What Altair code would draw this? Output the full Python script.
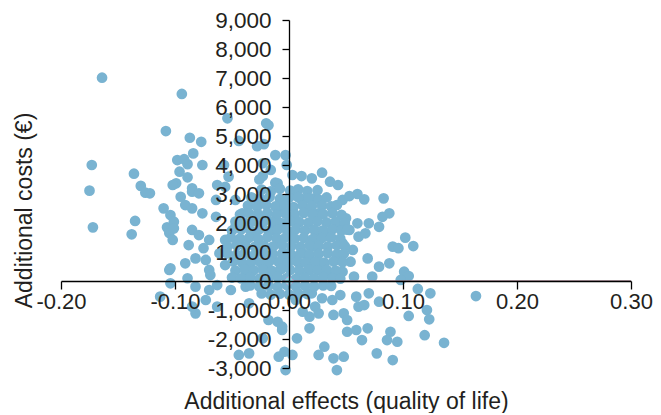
import altair as alt
import pandas as pd

x_ticks = [-0.2, -0.1, 0.0, 0.1, 0.2, 0.3]
y_ticks = [-3000, -2000, -1000, 0, 1000, 2000, 3000, 4000, 5000, 6000, 7000, 8000, 9000]

# scattered simulations (outside the dense core)
effects_outer = [
    -0.164, -0.108, -0.173, -0.136, -0.175, -0.130, -0.126, -0.122, -0.110, -0.172,
    -0.135, -0.138, -0.107, -0.105, -0.105, -0.113, -0.094, -0.054, -0.020, -0.018,
    -0.087, -0.077, -0.044, -0.028, -0.022, -0.084, -0.012, -0.098, -0.092, -0.089,
    -0.076, -0.057, -0.023, -0.016, -0.096, -0.053, -0.089, -0.026, -0.023, -0.099,
    -0.063, -0.012, -0.085, -0.056, -0.002, -0.003, -0.102, -0.095, -0.085, -0.079,
    -0.091, -0.085, -0.076, -0.104, -0.101, -0.101, -0.102, -0.085, -0.079, -0.070,
    -0.088, -0.082, -0.073, -0.091, -0.104, -0.070, -0.056, -0.039, -0.026, -0.015,
    -0.020, -0.038, -0.010, -0.064, -0.047, -0.032, -0.041, -0.020, -0.009, -0.013,
    -0.032, -0.047, -0.064, -0.056, -0.045, -0.061, -0.075, -0.009, -0.004, -0.003,
    -0.104, -0.089, -0.082, -0.070, -0.063, -0.051, -0.038, -0.073, -0.063, -0.082,
    -0.035, -0.018, -0.010, -0.023, -0.044, -0.035, -0.038, -0.069, -0.006, -0.009,
    -0.085, -0.003, 0.003, 0.011, 0.020, 0.029, 0.036, 0.043, 0.003, 0.010,
    0.022, 0.028, 0.047, 0.053, 0.060, 0.066, 0.083, 0.038, 0.088, 0.082,
    0.070, 0.079, 0.061, 0.067, 0.091, 0.096, 0.056, 0.047, 0.069, 0.079,
    0.088, 0.073, 0.101, 0.054, 0.041, 0.038, 0.047, 0.057, 0.026, 0.035,
    0.023, 0.012, 0.029, 0.018, 0.009, 0.000, 0.006, 0.015, 0.026, 0.050,
    0.044, 0.053, 0.060, -0.003, -0.003, 0.020, 0.029, 0.038, 0.045, 0.059,
    0.070, 0.079, 0.061, 0.066, 0.023, 0.026, 0.018, 0.039, 0.048, 0.051,
    0.018, 0.007, 0.051, 0.059, 0.069, 0.064, 0.089, 0.086, 0.095, 0.031,
    0.026, 0.039, 0.048, 0.042, 0.077, 0.091, -0.004, 0.003, -0.006, 0.012,
    0.006, 0.102, 0.109, 0.105, 0.098, 0.113, 0.124, 0.164, 0.121, 0.123,
    0.105, 0.119, 0.136,
]
costs_outer = [
    7010, 5170, 4000, 3700, 3115, 3280, 3045, 3025, 2505, 1850,
    2070, 1610, 1850, 1655, 380, -540, 6450, 5610, 5440, 5370,
    4940, 4800, 4830, 4650, 4720, 4400, 4340, 4170, 4200, 4030,
    4000, 4000, 4060, 3830, 3770, 3600, 3575, 3500, 3620, 3370,
    3310, 3390, 3195, 3250, 4000, 4340, 3310, 2905, 3080, 3025,
    2620, 2505, 2335, 2275, 2045, 1815, 1415, 1760, 1585, 1415,
    1240, 780, 725, 610, 440, 380, 550, 955, 1185, 840,
    440, 380, 3370, 2795, 2795, 2850, 2335, 2215, 2450, 1760,
    1645, 1870, 2215, 1415, 1240, 955, 1130, 1415, 725, 1990,
    -80, 95, -195, -310, -140, -310, -195, -655, -885, -1115,
    -770, -1345, -1405, -1975, -2550, -2495, 205, 205, -1690, -2610,
    -885, -3070, 3655, 3620, 3540, 3735, 3425, 3310, 3025, 2850,
    2850, 2735, 2795, 2930, 3000, 2815, 2850, 2540, 2335, 2215,
    1990, 1870, 1530, 1645, 1185, 1130, 1070, 1300, 780, 495,
    610, 150, 320, 665, 725, 265, 320, 150, 1700, 1530,
    1185, 955, 610, 380, 610, 1645, 2105, 2450, 2335, 2160,
    1870, 1760, 1990, 2450, 955, -425, -595, -655, -485, -540,
    -425, -715, -885, -830, -885, -1115, -1230, -1170, -1115, -1345,
    -1630, -1975, -1750, -1690, -1630, -2035, -1750, -2035, -2095, -2265,
    -2550, -2665, -2610, -3070, -2495, -2725, -2440, -2550, -1575, -1060,
    -655, 1495, 1205, 170, 35, -275, -425, -520, -1000, -1320,
    -1205, -1870, -2130,
]

# dense core of the cloud
effects_core = [
    -0.024, -0.016, -0.008, 0.001, 0.008, 0.016, 0.025,
    -0.033, -0.025, -0.017, -0.008, 0.000, 0.008, 0.017, 0.026, 0.033,
    -0.036, -0.028, -0.020, -0.012, -0.004, 0.004, 0.012, 0.020, 0.029, 0.037, 0.042,
    -0.043, -0.035, -0.027, -0.019, -0.011, -0.003, 0.005, 0.013, 0.021, 0.030, 0.038, 0.046,
    -0.047, -0.039, -0.031, -0.023, -0.015, -0.007, 0.001, 0.009, 0.017, 0.025, 0.033, 0.041, 0.049,
    -0.050, -0.042, -0.034, -0.026, -0.018, -0.010, -0.002, 0.006, 0.014, 0.022, 0.030, 0.038, 0.046, 0.051,
    -0.051, -0.043, -0.035, -0.027, -0.019, -0.011, -0.003, 0.005, 0.013, 0.021, 0.029, 0.037, 0.045,
    -0.054, -0.046, -0.038, -0.030, -0.022, -0.014, -0.006, 0.002, 0.010, 0.018, 0.026, 0.034, 0.042, 0.049,
    -0.054, -0.046, -0.038, -0.030, -0.022, -0.014, -0.006, 0.002, 0.010, 0.018, 0.026, 0.034, 0.042, 0.048,
    -0.049, -0.041, -0.033, -0.025, -0.017, -0.009, -0.001, 0.007, 0.015, 0.023, 0.031, 0.039, 0.047,
    -0.047, -0.039, -0.031, -0.023, -0.015, -0.007, 0.001, 0.009, 0.017, 0.025, 0.033, 0.041,
    -0.050, -0.042, -0.034, -0.026, -0.018, -0.010, -0.002, 0.006, 0.014, 0.022, 0.030, 0.038, 0.045,
    -0.034, -0.026, -0.018, -0.010, -0.002, 0.006, 0.014, 0.022, 0.030, 0.037,
    -0.024, -0.016, -0.008, 0.000, 0.008, 0.016,
]
costs_core = [
    3150, 3090, 3180, 3120, 3160, 3100, 3130,
    2880, 2840, 2900, 2830, 2870, 2890, 2850, 2810, 2880,
    2600, 2560, 2620, 2570, 2590, 2550, 2610, 2580, 2600, 2570, 2620,
    2290, 2330, 2300, 2340, 2280, 2320, 2300, 2350, 2290, 2310, 2340, 2280,
    2050, 2010, 2060, 2020, 2040, 2000, 2070, 2030, 2010, 2060, 2020, 2050, 2000,
    1740, 1780, 1750, 1790, 1730, 1770, 1760, 1790, 1740, 1770, 1750, 1780, 1740, 1770,
    1500, 1460, 1490, 1450, 1510, 1470, 1500, 1460, 1490, 1450, 1480, 1510, 1460,
    1190, 1230, 1200, 1180, 1220, 1190, 1240, 1200, 1180, 1220, 1210, 1190, 1230, 1200,
    950, 910, 940, 900, 960, 920, 950, 910, 940, 900, 930, 960, 920, 940,
    670, 630, 660, 640, 680, 650, 620, 670, 640, 660, 630, 670, 650,
    360, 400, 370, 390, 350, 410, 380, 360, 400, 370, 390, 360,
    120, 90, 130, 80, 110, 140, 100, 70, 120, 90, 130, 100, 80,
    -150, -190, -160, -200, -140, -180, -160, -190, -150, -170,
    -430, -470, -440, -460, -420, -450,
]

df = pd.DataFrame({
    "effect": effects_outer + effects_core,
    "cost": costs_outer + costs_core,
})

FONT = "Liberation Sans"
TXT = "#231f20"
PLOT_W, PLOT_H = 570, 348

x_scale = alt.Scale(domain=[-0.2, 0.3], nice=False, zero=False)
y_scale = alt.Scale(domain=[-3000, 9000], nice=False, zero=False)

x_axis = alt.Axis(
    values=x_ticks, labelExpr="replace(format(datum.value, '.2f'), '\u2212', '-')",
    offset=-87, grid=False, domainColor="#000000", domainWidth=1.3,
    tickColor="#000000", tickSize=8, tickWidth=1.3, labelPadding=2,
    labelFont=FONT, labelFontSize=22, labelColor=TXT, labelFlush=False, labelOverlap=False,
    labelSeparation=0, labelBound=False,
    title="Additional effects (quality of life)", titleFont=FONT, titleFontSize=23,
    titleFontWeight="normal", titleColor=TXT, titleBaseline="alphabetic", titleY=127,
    zindex=1,
)
y_axis = alt.Axis(
    values=y_ticks, labelExpr="replace(format(datum.value, ',.0f'), '\u2212', '-')",
    offset=-228, grid=False, domainColor="#000000", domainWidth=1.3,
    tickColor="#000000", tickSize=7, tickWidth=1.3, labelPadding=11,
    labelFont=FONT, labelFontSize=22.5, labelColor=TXT, labelFlush=False, labelOverlap=False,
    labelSeparation=0, labelBound=False,
    title="Additional costs (\u20ac)", titleFont=FONT, titleFontSize=23,
    titleFontWeight="normal", titleColor=TXT, titleAngle=270, titleBaseline="alphabetic",
    titleX=-258, titleY=190, zindex=1,
)

points = alt.Chart(df).mark_circle(size=115, color="#79b3d1", opacity=1).encode(
    x=alt.X("effect:Q", scale=x_scale, axis=x_axis),
    y=alt.Y("cost:Q", scale=y_scale, axis=y_axis),
)

zero_line = pd.DataFrame({"x0": [0.0], "x1": [0.3], "y": [0]})
rule = alt.Chart(zero_line).mark_rule(color="#a27f8c", strokeWidth=1.6).encode(
    x=alt.X("x0:Q", scale=x_scale, axis=x_axis), x2="x1:Q",
    y=alt.Y("y:Q", scale=y_scale, axis=y_axis),
)

origin = pd.DataFrame({"effect": [0.0], "cost": [0]})
diamond = alt.Chart(origin).mark_point(
    shape="diamond", filled=True, fill="#8fd6e6", stroke="#d68cc4",
    strokeDash=[2, 2], strokeWidth=1, size=110, opacity=1,
).encode(
    x=alt.X("effect:Q", scale=x_scale, axis=x_axis),
    y=alt.Y("cost:Q", scale=y_scale, axis=y_axis),
)

chart = alt.layer(points, rule, diamond).properties(
    width=PLOT_W, height=PLOT_H,
    autosize=alt.AutoSizeParams(type="none"),
    padding={"left": 53, "top": 12, "right": 22, "bottom": 45},
).configure_view(stroke=None).configure_axis(labelOverlap=False)

chart.save("out.html", embed_options={"renderer": "svg", "actions": False})
